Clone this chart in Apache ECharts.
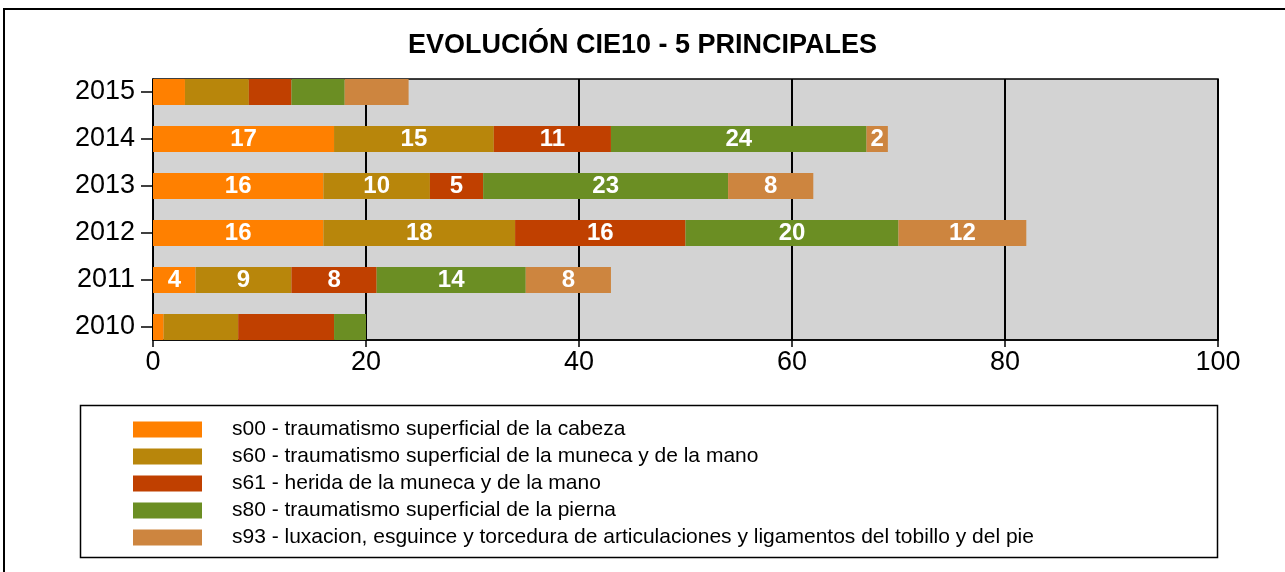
<!DOCTYPE html>
<html><head><meta charset="utf-8">
<script src="https://cdn.jsdelivr.net/npm/echarts@6/dist/echarts.min.js"></script>
<style>html,body{margin:0;padding:0;background:#fff}#c{width:1285px;height:572px}</style>
</head><body><div id="c"></div>
<script>
const title = 'EVOLUCIÓN CIE10 - 5 PRINCIPALES';
const years = ['2010','2011','2012','2013','2014','2015'];
const labeledYears = ['2011','2012','2013','2014'];
const seriesNames = [
  's00 - traumatismo superficial de la cabeza',
  's60 - traumatismo superficial de la muneca y de la mano',
  's61 - herida de la muneca y de la mano',
  's80 - traumatismo superficial de la pierna',
  's93 - luxacion, esguince y torcedura de articulaciones y ligamentos del tobillo y del pie'
];
const s00 = [1, 4, 16, 16, 17, 3];
const s60 = [7, 9, 18, 10, 15, 6];
const s61 = [9, 8, 16, 5, 11, 4];
const s80 = [3, 14, 20, 23, 24, 5];
const s93 = [0, 8, 12, 8, 2, 6];
const xMin = 0, xMax = 100, xStep = 20;
const colors = ['#FF8000', '#B8860B', '#C04000', '#6B8E23', '#CD853F'];

const allValues = [s00, s60, s61, s80, s93];
const chart = echarts.init(document.getElementById('c'), null, {renderer: 'canvas'});
const font = 'Liberation Sans, Arial, sans-serif';

const series = allValues.map((vals, i) => ({
  name: seriesNames[i],
  type: 'bar',
  stack: 'total',
  xAxisIndex: 1, yAxisIndex: 1,
  barWidth: 26,
  itemStyle: {color: colors[i]},
  label: {show: true, position: 'inside', color: '#fff', fontWeight: 'bold', fontSize: 24, fontFamily: font},
  data: vals.map((v, j) => ({value: v, label: {show: labeledYears.includes(years[j]) && v > 0}}))
}));

chart.setOption({
  animation: false,
  title: {text: title, left: 'center', top: 27, textStyle: {fontFamily: font, fontWeight: 'bold', fontSize: 27, color: '#000'}},
  grid: [
    {left: 153, right: 67, top: 79, height: 261, show: true, backgroundColor: '#D3D3D3', borderColor: '#000', borderWidth: 1.5},
    {left: 153, right: 67, top: 68.5, height: 282, show: false}
  ],
  xAxis: [{
    gridIndex: 0, type: 'value', min: xMin, max: xMax, interval: xStep,
    axisLine: {show: true, lineStyle: {color: '#000', width: 1.5}},
    axisTick: {show: true, length: 7, lineStyle: {color: '#000', width: 1.5}},
    axisLabel: {color: '#000', fontSize: 27, fontFamily: font, margin: 9},
    splitLine: {show: true, lineStyle: {color: '#000', width: 2}}
  }, {
    gridIndex: 1, type: 'value', min: xMin, max: xMax, show: false
  }],
  yAxis: [{
    gridIndex: 0, type: 'value', min: 0, max: 1,
    axisLine: {show: true, lineStyle: {color: '#000', width: 1.5}},
    axisTick: {show: false}, axisLabel: {show: false}, splitLine: {show: false}
  }, {
    gridIndex: 1, type: 'category', data: years,
    axisLine: {show: false},
    axisTick: {show: true, alignWithLabel: true, length: 12, lineStyle: {color: '#000', width: 1.5}},
    axisLabel: {color: '#000', fontSize: 27, fontFamily: font, margin: 18}
  }],
  legend: {
    orient: 'vertical', left: 128, top: 414, itemWidth: 69, itemHeight: 16, itemGap: 6,
    icon: 'rect', selectedMode: false,
    textStyle: {color: '#000', fontSize: 21, lineHeight: 20, fontFamily: font, padding: [0, 0, 0, 25]},
    data: seriesNames
  },
  graphic: [
    {type: 'rect', shape: {x: 4, y: 9, width: 1320, height: 620}, style: {fill: 'none', stroke: '#000', lineWidth: 2}, silent: true},
    {type: 'rect', shape: {x: 80.5, y: 405.5, width: 1137, height: 152}, style: {fill: 'none', stroke: '#000', lineWidth: 1.5}, silent: true}
  ],
  series: series
});
</script></body></html>
